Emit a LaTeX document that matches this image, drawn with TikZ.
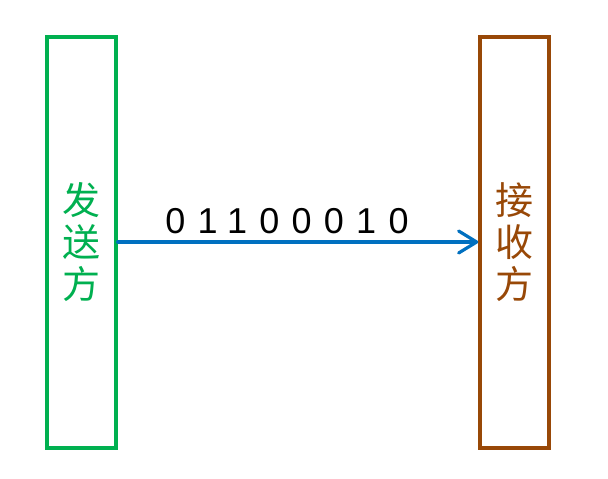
\documentclass[tikz,border=0pt]{standalone}
\usepackage{fontspec}
\setmainfont{Liberation Sans}
\newfontfamily\cjk{Noto Sans CJK SC}
\newfontfamily\digitfont[LetterSpace=34]{Liberation Sans}
\usetikzlibrary{arrows.meta}
\definecolor{sendgreen}{RGB}{0,176,80}
\definecolor{recvbrown}{RGB}{152,72,7}
\definecolor{arrowblue}{RGB}{0,112,192}
\begin{document}
\begin{tikzpicture}[x=1pt,y=1pt,
  party/.style={draw, line width=3.5pt, minimum width=69pt, minimum height=411pt, inner sep=0pt,
    align=center, font=\cjk\fontsize{38}{42}\selectfont},
  bits/.style={font=\digitfont\fontsize{36}{40}\selectfont, anchor=base, inner sep=0pt}]
\useasboundingbox (0,0) rectangle (608,-479);
\fill[white] (0,0) rectangle (608,-479);
\node[party, color=sendgreen, text=sendgreen] (send) at (81.5,-242.5) {发\\送\\方};
\node[party, color=recvbrown, text=recvbrown] (recv) at (514.5,-242.5) {接\\收\\方};
\draw[arrowblue, line width=3.2pt, line cap=round, -{Straight Barb[length=18pt,width=22pt,line width=3.2pt,round]}]
  (send.east |- 0,-242) -- (recv.west |- 0,-242);
\node[bits] (data) at (287,-233) {01100010};
\end{tikzpicture}
\end{document}
